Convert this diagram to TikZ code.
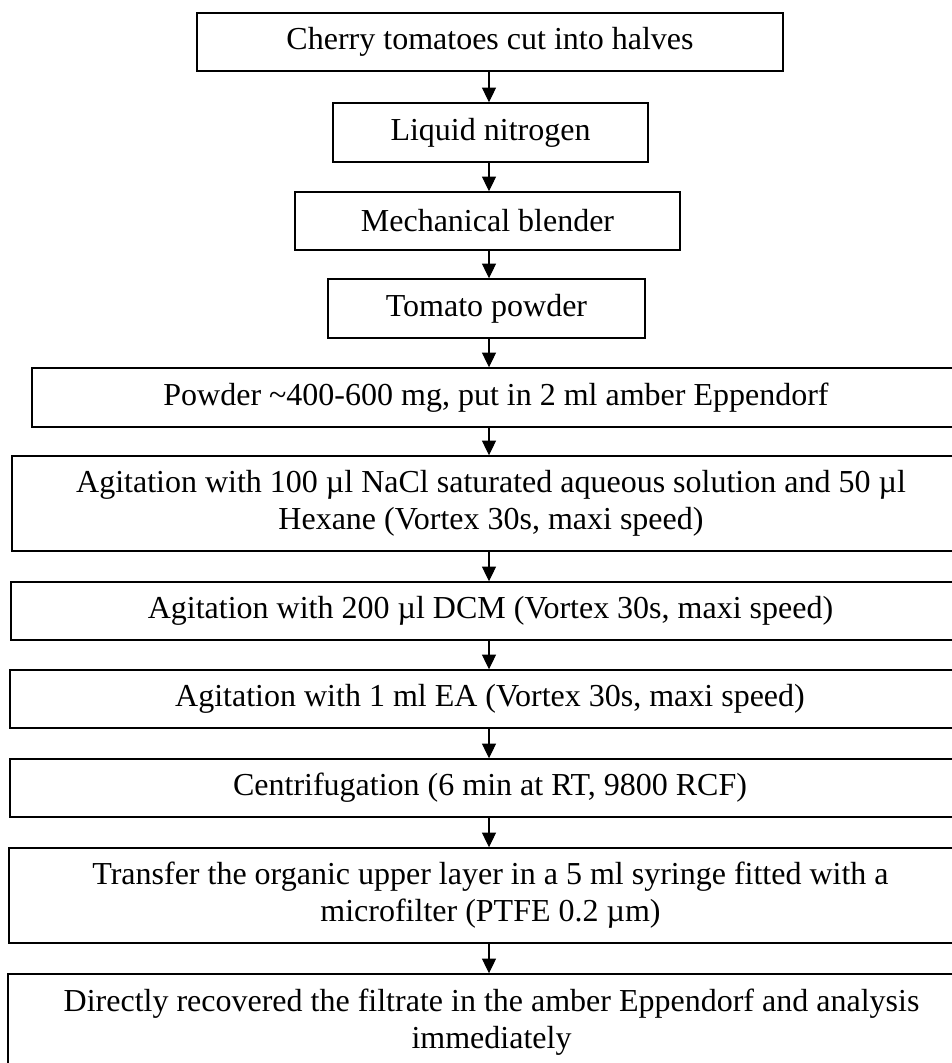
\documentclass[tikz,border=0pt]{standalone}
\usepackage{fontspec}
\setmainfont{Liberation Serif}
\usetikzlibrary{arrows.meta}
\begin{document}
\begin{tikzpicture}[x=0.75pt,y=-0.75pt,
  box/.style={draw, line width=1.1pt, inner sep=0pt, align=center,
    font=\fontsize{24}{27.6}\selectfont},
  arr/.style={-{Triangle[length=11pt,width=10.5pt]}, line width=0.8pt}]
\useasboundingbox (0,0) rectangle (952,1063);
\clip (0,0) rectangle (952,1063);
\fill[white] (0,0) rectangle (952,1063);
\coordinate (ax) at (489,0);
\node[box, minimum width=439.5pt, minimum height=43.5pt] (n1) at (490,42) {Cherry tomatoes cut into halves};
\node[box, minimum width=236.25pt, minimum height=44.25pt] (n2) at (490.5,132.5) {Liquid nitrogen};
\node[box, minimum width=288.75pt, minimum height=43.5pt] (n3) at (487.5,221) {Mechanical blender};
\node[box, minimum width=237.75pt, minimum height=44.25pt] (n4) at (486.5,308.5) {Tomato powder};
\node[box, minimum width=696pt, minimum height=44.25pt] (n5) at (496,397.5) {Powder \textasciitilde400-600 mg, put in 2 ml amber Eppendorf};
\node[box, minimum width=718.5pt, minimum height=71.25pt] (n6) at (491,503.5) {Agitation with 100 µl NaCl saturated aqueous solution and 50 µl\\Hexane (Vortex 30s, maxi speed)};
\node[box, minimum width=719.25pt, minimum height=43.5pt] (n7) at (490.5,611) {Agitation with 200 µl DCM (Vortex 30s, maxi speed)};
\node[box, minimum width=720pt, minimum height=43.5pt] (n8) at (490,699) {Agitation with 1 ml EA (Vortex 30s, maxi speed)};
\node[box, minimum width=720pt, minimum height=43.5pt] (n9) at (490,788) {Centrifugation (6 min at RT, 9800 RCF)};
\node[box, minimum width=722.25pt, minimum height=71.25pt] (n10) at (490.5,895.5) {Transfer the organic upper layer in a 5 ml syringe fitted with a\\microfilter (PTFE 0.2 µm)};
\node[box, minimum width=725.25pt, minimum height=72pt] (n11) at (491.5,1022) {Directly recovered the filtrate in the amber Eppendorf and analysis\\immediately};
\foreach \a/\b in {n1/n2,n2/n3,n3/n4,n4/n5,n5/n6,n6/n7,n7/n8,n8/n9,n9/n10,n10/n11}
  \draw[arr] (\a.south -| ax) -- (\b.north -| ax);
\end{tikzpicture}
\end{document}
